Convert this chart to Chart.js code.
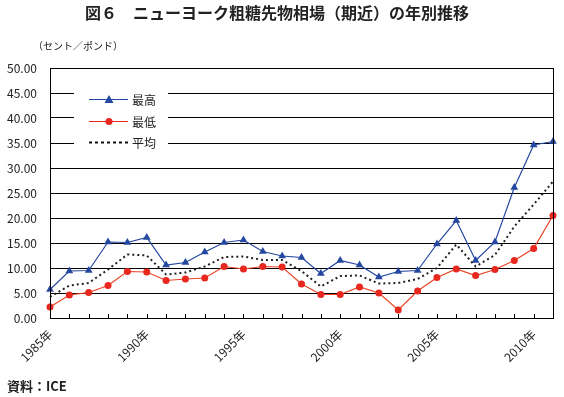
<!DOCTYPE html>
<html>
<head>
<meta charset="utf-8">
<script src="https://cdn.jsdelivr.net/npm/chart.js@4"></script>
<style>
  html, body { margin: 0; padding: 0; background: #fff; }
  #wrap { width: 564px; height: 397px; }
</style>
</head>
<body>
<div id="wrap"><canvas id="grafico" width="564" height="397"></canvas></div>
<script>
const years = ['1985', '1986', '1987', '1988', '1989', '1990', '1991', '1992', '1993', '1994',
  '1995', '1996', '1997', '1998', '1999', '2000', '2001', '2002', '2003', '2004',
  '2005', '2006', '2007', '2008', '2009', '2010', '2011'];
const maxVals = [5.7, 9.4, 9.5, 15.2, 15.1, 16.1, 10.6, 11.1, 13.2, 15.1,
  15.6, 13.3, 12.4, 12.1, 8.9, 11.5, 10.6, 8.2, 9.3, 9.5,
  14.8, 19.5, 11.5, 15.2, 26.1, 34.6, 35.3];
const minVals = [2.2, 4.6, 5.1, 6.5, 9.3, 9.2, 7.5, 7.8, 8.0, 10.3,
  9.8, 10.3, 10.2, 6.8, 4.7, 4.7, 6.2, 5.0, 1.6, 5.4,
  8.1, 9.8, 8.5, 9.7, 11.5, 13.9, 20.5];
const avgVals = [4.2, 6.5, 7.0, 9.7, 12.7, 12.5, 8.7, 9.1, 10.3, 12.2,
  12.3, 11.6, 11.6, 9.4, 6.3, 8.4, 8.5, 6.9, 7.0, 7.8,
  10.0, 14.7, 10.3, 12.6, 18.3, 22.7, 27.3];
const labelYears = ['1985', '1990', '1995', '2000', '2005', '2010'];
const seriesNames = ['最高', '最低', '平均'];

const blue = '#2447a0';
const red = '#e8271e';
const font = '"Noto Sans CJK JP", "Noto Sans", sans-serif';

const decor = {
  id: 'decor',
  afterDraw(chart) {
    const c = chart.ctx;
    const a = chart.chartArea;
    const x = chart.scales.x;
    c.save();
    // frame
    c.strokeStyle = '#000';
    c.lineWidth = 1;
    c.strokeRect(Math.round(a.left) + 0.5, Math.round(a.top) + 0.5,
      Math.round(a.right - a.left), Math.round(a.bottom - a.top));
    // inner tick marks
    c.beginPath();
    years.forEach((y, i) => {
      const px = Math.round(x.getPixelForValue(i)) + 0.5;
      c.moveTo(px, a.bottom);
      c.lineTo(px, a.bottom - 4);
    });
    c.stroke();
    // title
    c.fillStyle = '#222';
    c.font = 'bold 16px ' + font;
    c.textAlign = 'center';
    c.textBaseline = 'middle';
    c.fillText('図６　ニューヨーク粗糖先物相場（期近）の年別推移', 277, 13);
    c.font = '10px ' + font;
    c.textAlign = 'left';
    c.fillText('（セント／ポンド）', 33, 46);
    c.font = 'bold 13px ' + font;
    c.fillText('資料：ICE', 7, 386);
    // legend
    c.fillStyle = '#fff';
    c.fillRect(74, 84, 94, 68);
    const rows = [99, 121, 142];
    const colors = [blue, red, '#111'];
    rows.forEach((ry, i) => {
      c.strokeStyle = colors[i];
      c.lineWidth = i === 2 ? 2 : 1;
      c.setLineDash(i === 2 ? [3, 3] : []);
      c.beginPath();
      c.moveTo(89, ry + 0.5);
      c.lineTo(128, ry + 0.5);
      c.stroke();
      c.setLineDash([]);
      c.fillStyle = colors[i];
      if (i === 0) {
        c.beginPath();
        c.moveTo(109, ry - 4);
        c.lineTo(113.5, ry + 4);
        c.lineTo(104.5, ry + 4);
        c.closePath();
        c.fill();
      } else if (i === 1) {
        c.beginPath();
        c.arc(109, ry + 0.5, 3.5, 0, Math.PI * 2);
        c.fill();
      }
      c.fillStyle = '#222';
      c.font = '12px ' + font;
      c.textBaseline = 'middle';
      c.fillText(seriesNames[i], 132, ry + 1);
    });
    c.restore();
  }
};

new Chart(document.getElementById('grafico').getContext('2d'), {
  type: 'line',
  data: {
    labels: years,
    datasets: [
      {
        label: seriesNames[2],
        data: avgVals,
        borderColor: '#222',
        borderWidth: 2,
        borderDash: [2, 3],
        pointRadius: 0,
        tension: 0
      },
      {
        label: seriesNames[1],
        data: minVals,
        borderColor: '#ea4326',
        backgroundColor: red,
        borderWidth: 1.2,
        pointStyle: 'circle',
        pointRadius: 3.5,
        pointBorderWidth: 0,
        tension: 0
      },
      {
        label: seriesNames[0],
        data: maxVals,
        borderColor: blue,
        backgroundColor: blue,
        borderWidth: 1.2,
        pointStyle: 'triangle',
        pointRadius: 4.5,
        pointBorderWidth: 0,
        tension: 0
      }
    ]
  },
  options: {
    responsive: false,
    animation: false,
    layout: { padding: { top: 68, right: 11, left: 0, bottom: 0 } },
    plugins: {
      legend: { display: false },
      tooltip: { enabled: false }
    },
    scales: {
      x: {
        offset: false,
        grid: { display: false, drawTicks: false },
        border: { display: true, color: '#000', width: 1 },
        afterFit(scale) {
          scale.height = 79;
          scale.paddingRight = 0;
          scale.paddingLeft = 0;
        },
        ticks: {
          autoSkip: false,
          minRotation: 45,
          maxRotation: 45,
          padding: 9,
          color: '#222',
          font: { family: font, size: 12 },
          callback(v, i) {
            const y = years[i];
            return labelYears.includes(y) ? y + '年' : '';
          }
        }
      },
      y: {
        min: 0,
        max: 50,
        grid: { color: '#000', lineWidth: 1, drawTicks: false },
        border: { display: true, color: '#000', width: 1 },
        afterFit(scale) { scale.width = 50; },
        ticks: {
          stepSize: 5,
          padding: 13,
          color: '#222',
          font: { family: font, size: 12 },
          callback(v) { return v.toFixed(2); }
        }
      }
    }
  },
  plugins: [decor]
});
</script>
</body>
</html>
